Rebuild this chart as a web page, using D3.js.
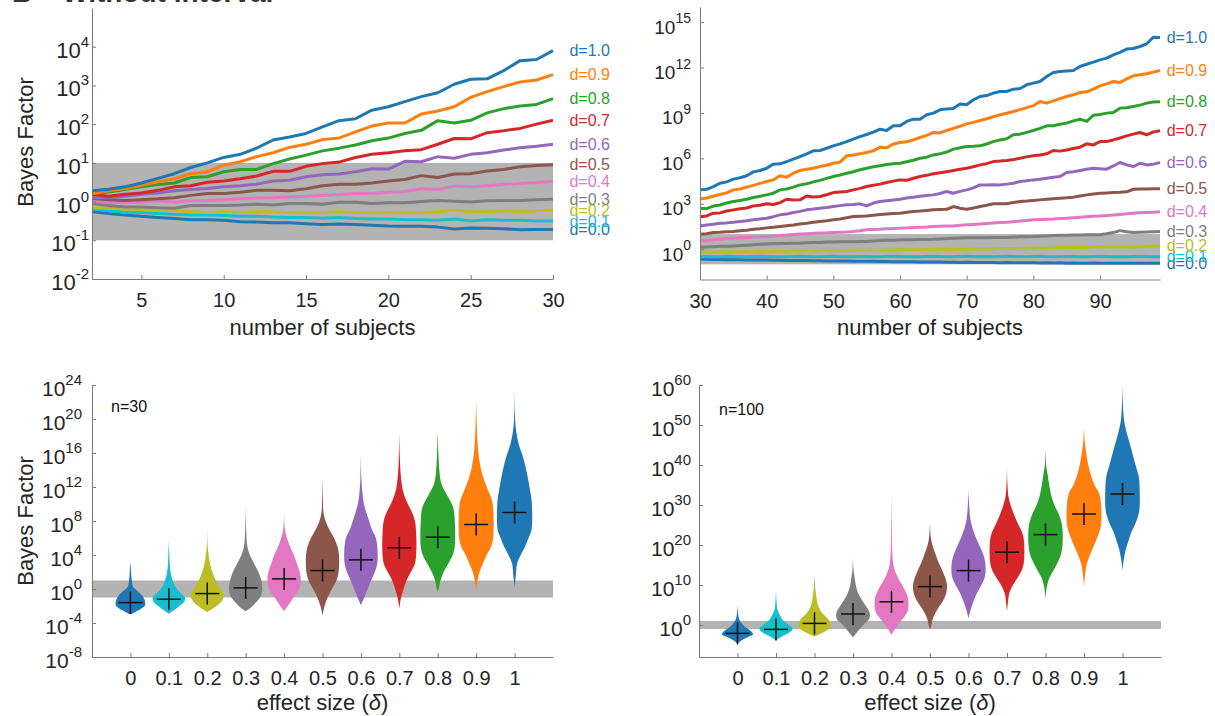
<!DOCTYPE html>
<html>
<head>
<meta charset="utf-8">
<script src="https://cdn.jsdelivr.net/npm/d3@7"></script>
<style>
  body { margin: 0; background: #fff; }
  svg { font-family: "Liberation Sans", Arial, Helvetica, sans-serif; }
</style>
</head>
<body>
<div id="chart"></div>
<script>
// ---- data (log10 Bayes factors) ----
const seriesNames = ["d=0.0", "d=0.1", "d=0.2", "d=0.3", "d=0.4", "d=0.5", "d=0.6", "d=0.7", "d=0.8", "d=0.9", "d=1.0"];
const colors = ["#1f77b4", "#17becf", "#bcbd22", "#7f7f7f", "#e377c2", "#8c564b", "#9467bd", "#d62728", "#2ca02c", "#ff7f0e", "#1f77b4"];
const effectSizes = [0, 0.1, 0.2, 0.3, 0.4, 0.5, 0.6, 0.7, 0.8, 0.9, 1];
const effectLabels = ["0", "0.1", "0.2", "0.3", "0.4", "0.5", "0.6", "0.7", "0.8", "0.9", "1"];

// top left: n = 2..30
const nA = d3.range(2, 31);
const bfA_00 = [-0.26,-0.31,-0.35,-0.38,-0.41,-0.44,-0.47,-0.47,-0.48,-0.52,-0.53,-0.55,-0.55,-0.57,-0.59,-0.58,-0.59,-0.61,-0.63,-0.64,-0.64,-0.66,-0.71,-0.68,-0.69,-0.70,-0.73,-0.72,-0.72];
const bfA_01 = [-0.19,-0.24,-0.27,-0.28,-0.31,-0.33,-0.35,-0.34,-0.36,-0.38,-0.38,-0.40,-0.41,-0.41,-0.43,-0.41,-0.44,-0.45,-0.45,-0.47,-0.47,-0.48,-0.45,-0.50,-0.47,-0.48,-0.48,-0.50,-0.50];
const bfA_02 = [-0.16,-0.17,-0.19,-0.21,-0.22,-0.24,-0.26,-0.28,-0.26,-0.28,-0.26,-0.26,-0.29,-0.28,-0.28,-0.26,-0.28,-0.29,-0.29,-0.28,-0.28,-0.26,-0.22,-0.26,-0.26,-0.24,-0.26,-0.24,-0.22];
const bfA_03 = [-0.05,-0.10,-0.14,-0.14,-0.16,-0.17,-0.10,-0.10,-0.10,-0.09,-0.07,-0.09,-0.05,-0.05,-0.07,-0.02,-0.02,-0.05,-0.03,-0.03,0.00,0.03,0.01,-0.01,0.02,0.03,0.03,0.05,0.06];
const bfA_04 = [0.01,-0.02,-0.03,-0.02,0.02,-0.02,0.02,0.03,0.05,0.07,0.09,0.10,0.12,0.14,0.16,0.18,0.21,0.21,0.24,0.26,0.33,0.31,0.40,0.38,0.41,0.44,0.47,0.49,0.52];
const bfA_05 = [0.08,0.05,0.03,0.05,0.07,0.10,0.16,0.21,0.21,0.24,0.29,0.29,0.28,0.33,0.41,0.45,0.45,0.48,0.53,0.57,0.67,0.62,0.71,0.72,0.79,0.83,0.90,0.93,0.95];
const bfA_06 = [0.10,0.10,0.14,0.19,0.22,0.28,0.31,0.34,0.38,0.41,0.45,0.53,0.55,0.64,0.69,0.71,0.77,0.85,0.84,1.04,1.03,1.16,1.12,1.22,1.26,1.33,1.39,1.43,1.48];
const bfA_07 = [0.18,0.14,0.19,0.22,0.29,0.38,0.41,0.50,0.53,0.59,0.66,0.78,0.78,0.91,0.98,1.02,1.14,1.22,1.26,1.31,1.34,1.48,1.63,1.62,1.78,1.83,1.89,2.00,2.10];
const bfA_08 = [0.21,0.25,0.31,0.38,0.44,0.48,0.62,0.64,0.77,0.83,0.83,0.98,1.10,1.20,1.31,1.38,1.46,1.57,1.64,1.76,1.84,2.09,2.03,2.10,2.29,2.40,2.47,2.51,2.66];
const bfA_09 = [0.21,0.28,0.34,0.42,0.51,0.59,0.72,0.77,0.94,1.03,1.16,1.26,1.40,1.48,1.60,1.64,1.80,1.95,2.03,2.03,2.26,2.34,2.45,2.69,2.84,2.97,3.09,3.14,3.28];
const bfA_10 = [0.28,0.32,0.38,0.48,0.60,0.72,0.88,1.00,1.14,1.22,1.38,1.59,1.67,1.76,1.93,2.09,2.14,2.36,2.45,2.58,2.71,2.81,3.03,3.16,3.17,3.38,3.64,3.67,3.90];

// top right: n = 30..99
const nB = d3.range(30, 100);
const bfB_00 = [-0.66,-0.67,-0.68,-0.68,-0.69,-0.70,-0.70,-0.71,-0.71,-0.72,
  -0.72,-0.73,-0.73,-0.74,-0.74,-0.75,-0.75,-0.76,-0.76,-0.77,
  -0.77,-0.78,-0.78,-0.79,-0.79,-0.80,-0.80,-0.81,-0.81,-0.82,
  -0.82,-0.83,-0.82,-0.84,-0.85,-0.84,-0.85,-0.86,-0.86,-0.87,
  -0.86,-0.87,-0.88,-0.87,-0.88,-0.89,-0.88,-0.89,-0.90,-0.89,
  -0.90,-0.91,-0.90,-0.91,-0.90,-0.92,-0.91,-0.93,-0.92,-0.91,
  -0.92,-0.93,-0.92,-0.93,-0.92,-0.93,-0.93,-0.92,-0.93,-0.93];
const bfB_01 = [-0.49,-0.48,-0.50,-0.49,-0.47,-0.48,-0.49,-0.50,-0.48,-0.47,
  -0.48,-0.49,-0.50,-0.49,-0.48,-0.47,-0.48,-0.50,-0.49,-0.48,
  -0.47,-0.49,-0.50,-0.49,-0.48,-0.48,-0.49,-0.50,-0.48,-0.47,
  -0.48,-0.49,-0.50,-0.49,-0.48,-0.47,-0.48,-0.49,-0.50,-0.48,
  -0.47,-0.48,-0.49,-0.50,-0.49,-0.48,-0.47,-0.48,-0.50,-0.49,
  -0.48,-0.47,-0.49,-0.50,-0.49,-0.48,-0.48,-0.49,-0.50,-0.48,
  -0.47,-0.48,-0.49,-0.50,-0.49,-0.48,-0.47,-0.48,-0.49,-0.49];
const bfB_02 = [-0.20,-0.19,-0.19,-0.18,-0.18,-0.17,-0.17,-0.16,-0.16,-0.15,
  -0.15,-0.14,-0.14,-0.13,-0.12,-0.12,-0.11,-0.11,-0.10,-0.10,
  -0.09,-0.09,-0.08,-0.08,-0.07,-0.07,-0.06,-0.06,-0.05,-0.05,
  -0.04,-0.04,-0.03,-0.03,-0.02,-0.02,-0.01,-0.01,0.00,0.00,
  0.00,0.01,0.01,0.02,0.03,0.04,0.04,0.05,0.06,0.06,
  0.07,0.08,0.08,0.09,0.10,0.10,0.11,0.12,0.13,0.16,
  0.18,0.17,0.15,0.14,0.14,0.13,0.16,0.19,0.21,0.22];
const bfB_03 = [0.13,0.15,0.17,0.19,0.20,0.22,0.24,0.27,0.30,0.33,
  0.35,0.36,0.37,0.38,0.39,0.40,0.42,0.44,0.45,0.47,
  0.48,0.49,0.50,0.50,0.51,0.51,0.54,0.57,0.59,0.60,
  0.62,0.63,0.63,0.64,0.65,0.66,0.68,0.70,0.72,0.74,
  0.75,0.75,0.76,0.76,0.77,0.77,0.78,0.80,0.82,0.83,
  0.84,0.86,0.88,0.90,0.92,0.93,0.94,0.94,0.95,0.95,
  0.95,1.02,1.10,1.23,1.15,1.10,1.12,1.14,1.16,1.17];
const bfB_04 = [0.57,0.60,0.62,0.66,0.70,0.73,0.75,0.78,0.80,0.82,
  0.84,0.88,0.90,0.94,0.98,1.01,1.03,1.05,1.07,1.08,
  1.10,1.12,1.14,1.17,1.22,1.28,1.30,1.32,1.35,1.37,
  1.39,1.41,1.43,1.45,1.47,1.50,1.52,1.53,1.54,1.58,
  1.61,1.64,1.66,1.70,1.73,1.76,1.78,1.82,1.86,1.90,
  1.94,1.96,1.98,2.00,2.03,2.05,2.08,2.11,2.14,2.17,
  2.20,2.22,2.26,2.30,2.34,2.38,2.41,2.43,2.45,2.47];
const bfB_05 = [0.99,1.02,1.10,1.12,1.15,1.17,1.22,1.26,1.32,1.36,
  1.41,1.45,1.50,1.55,1.60,1.67,1.72,1.78,1.83,1.88,
  1.94,2.00,2.08,2.16,2.18,2.20,2.25,2.30,2.33,2.36,
  2.38,2.44,2.49,2.52,2.56,2.60,2.62,2.64,2.82,2.71,
  2.64,2.72,2.82,2.90,3.00,3.00,3.00,3.08,3.15,3.18,
  3.22,3.26,3.30,3.34,3.37,3.40,3.44,3.52,3.59,3.65,
  3.70,3.72,3.74,3.76,3.79,3.96,3.98,3.98,3.99,3.99];
const bfB_06 = [1.54,1.60,1.65,1.72,1.74,1.78,1.83,1.88,1.95,2.00,
  2.05,2.15,2.27,2.32,2.42,2.50,2.60,2.65,2.71,2.76,
  2.82,2.88,2.93,2.96,3.00,2.86,3.05,3.15,3.20,3.25,
  3.30,3.38,3.44,3.50,3.55,3.59,3.68,3.81,3.70,3.82,
  3.92,4.05,4.25,4.25,4.26,4.25,4.30,4.36,4.47,4.52,
  4.58,4.62,4.69,4.75,4.80,5.07,5.12,5.20,5.28,5.35,
  5.32,5.29,5.50,5.73,5.57,5.46,5.68,5.57,5.62,5.73];
const bfB_07 = [2.14,2.20,2.38,2.40,2.52,2.60,2.68,2.72,2.86,2.90,
  3.00,2.95,3.08,3.30,3.25,3.26,3.52,3.45,3.48,3.60,
  3.74,3.78,3.81,3.92,4.02,4.14,4.22,4.30,4.41,4.50,
  4.58,4.55,4.69,4.80,4.88,4.98,5.05,5.12,5.20,5.28,
  5.35,5.45,5.57,5.65,5.79,5.82,5.86,5.92,6.01,6.10,
  6.17,6.22,6.30,6.52,6.48,6.56,6.65,6.74,6.96,6.89,
  7.11,7.12,7.22,7.35,7.49,7.60,7.71,7.56,7.75,7.82];
const bfB_08 = [2.71,2.68,2.85,2.92,3.05,3.15,3.22,3.30,3.42,3.50,
  3.59,3.70,3.92,3.98,4.10,4.25,4.32,4.45,4.55,4.68,
  4.80,4.90,5.02,5.12,5.25,5.35,5.45,5.51,5.60,5.64,
  5.68,5.78,5.88,6.01,6.08,6.23,6.30,6.42,6.61,6.70,
  6.78,6.80,6.83,6.95,7.11,7.22,7.30,7.56,7.60,7.72,
  7.84,7.98,8.15,8.16,8.25,8.33,8.48,8.59,8.44,8.85,
  8.90,8.99,9.03,9.32,9.35,9.43,9.52,9.65,9.72,9.74];
const bfB_09 = [3.32,3.38,3.50,3.62,3.72,3.92,3.98,4.10,4.22,4.35,
  4.47,4.58,4.85,4.76,5.02,5.20,5.28,5.35,5.46,5.55,
  5.68,5.75,6.17,6.22,6.30,6.39,6.50,6.74,6.70,6.95,
  7.05,7.10,7.22,7.38,7.52,7.71,7.68,7.84,7.98,8.12,
  8.28,8.38,8.50,8.62,8.75,8.88,8.98,9.10,9.22,9.35,
  9.47,9.76,9.65,9.80,9.95,10.09,10.20,10.35,10.40,10.58,
  10.79,10.92,11.08,11.01,11.25,11.45,11.52,11.59,11.70,11.81];
const bfB_10 = [3.92,3.96,4.14,4.36,4.45,4.63,4.72,4.85,5.11,5.20,
  5.35,5.62,5.64,5.79,5.95,6.12,6.30,6.50,6.52,6.67,
  6.83,6.96,7.11,7.27,7.44,7.58,7.73,7.93,7.84,8.15,
  8.15,8.44,8.59,8.59,8.88,8.99,9.21,9.27,9.30,9.60,
  9.54,9.87,10.09,10.15,10.31,10.42,10.42,10.57,10.62,10.86,
  10.97,11.08,11.41,11.67,11.74,11.78,11.81,12.07,12.22,12.36,
  12.51,12.62,12.84,13.00,13.22,13.26,13.39,13.57,14.00,13.99];

// violin outlines, n = 30: [log10 BF, relative density]
const vC_00 = [[3.2,0],[2,0.04],[1,0.08],[0.3,0.15],[-0.2,0.4],[-0.8,0.7],[-1.4,0.85],[-1.9,0.86],[-2.3,0.65],[-2.7,0.3],[-3.0,0]];
const vC_01 = [[5.7,0],[4,0.03],[2.5,0.07],[1.5,0.15],[0.5,0.32],[-0.3,0.6],[-1.0,0.95],[-1.5,0.9],[-2.0,0.62],[-2.5,0.3],[-2.9,0]];
const vC_02 = [[6.9,0],[5,0.03],[4,0.08],[3,0.16],[2,0.3],[1,0.5],[0,0.8],[-0.8,0.98],[-1.5,0.82],[-2.2,0.4],[-2.7,0]];
const vC_03 = [[9.7,0],[7,0.03],[5,0.1],[4,0.25],[3,0.5],[2,0.75],[1,0.92],[0,0.98],[-0.8,0.9],[-1.6,0.6],[-2.2,0.3],[-2.6,0]];
const vC_04 = [[9.1,0],[7.5,0.03],[6.5,0.1],[5,0.35],[4,0.58],[3,0.75],[2,0.92],[1,0.98],[0,0.88],[-1,0.55],[-2,0.22],[-2.6,0]];
const vC_05 = [[13,0],[11,0.02],[9,0.06],[8,0.18],[7,0.4],[6,0.68],[5,0.88],[4,0.97],[3,0.98],[2,0.95],[1,0.82],[0,0.55],[-1,0.3],[-2,0.12],[-3.1,0]];
const vC_06 = [[15.8,0],[13,0.03],[11.5,0.08],[10,0.18],[8.5,0.4],[7,0.65],[6,0.88],[4.5,0.98],[3,0.96],[2,0.82],[1,0.6],[0,0.4],[-1,0.2],[-1.9,0]];
const vC_07 = [[18.3,0],[15.5,0.03],[13.5,0.08],[11.5,0.22],[10,0.5],[9,0.75],[8,0.92],[6.5,0.99],[4.5,1.0],[3,0.92],[2,0.68],[1,0.42],[0,0.25],[-1,0.1],[-2.3,0]];
const vC_08 = [[18.5,0],[16,0.04],[14,0.09],[12.5,0.2],[11.5,0.42],[10.5,0.7],[9.5,0.92],[8,1.0],[5,1.0],[4,0.88],[3,0.62],[2,0.35],[1,0.16],[0,0.05],[-0.3,0]];
const vC_09 = [[22.2,0],[19,0.04],[17,0.09],[15,0.2],[13.5,0.36],[12,0.62],[10.5,0.92],[9.5,1.0],[6,1.0],[5,0.88],[4,0.62],[3,0.4],[2,0.2],[1,0.08],[-0.3,0]];
const vC_10 = [[23.4,0],[20,0.03],[18.5,0.1],[17,0.25],[15.5,0.5],[13.5,0.74],[11.5,0.92],[10.5,1.0],[7,1.0],[6,0.82],[5,0.62],[4,0.36],[3,0.15],[1.5,0.07],[0.2,0]];
const medianC = [-1.6, -1.2, -0.54, 0.13, 1.19, 2.17, 3.43, 4.84, 6.1, 7.59, 9.0];

// violin outlines, n = 100
const vD_00 = [[5,0],[3,0.03],[1.7,0.08],[0.5,0.22],[-0.5,0.45],[-1.5,0.78],[-2.3,0.92],[-3,0.62],[-3.8,0.25],[-4.6,0]];
const vD_01 = [[8.75,0],[6,0.03],[4,0.08],[2.5,0.22],[1,0.45],[0,0.78],[-1,0.98],[-2,0.75],[-3,0.3],[-3.75,0]];
const vD_02 = [[12.9,0],[10,0.03],[8,0.08],[5,0.2],[3,0.45],[1.5,0.8],[0,0.97],[-1,0.85],[-2,0.45],[-2.9,0]];
const vD_03 = [[17.1,0],[14,0.03],[12,0.09],[9,0.22],[7,0.42],[5,0.72],[3,0.98],[1.5,0.95],[0,0.6],[-1.5,0.3],[-3.1,0]];
const vD_04 = [[32.9,0],[25,0.02],[18,0.05],[14.5,0.14],[12,0.36],[10,0.62],[8.5,0.82],[7,0.96],[5,1.0],[3.5,0.95],[2,0.75],[0.5,0.45],[-1,0.2],[-2.5,0]];
const vD_05 = [[25.4,0],[22,0.05],[20,0.14],[18,0.3],[16,0.47],[14,0.68],[12,0.88],[10,1.0],[8,0.96],[6,0.76],[4,0.45],[2,0.2],[0,0.08],[-1.25,0]];
const vD_06 = [[33.75,0],[30,0.04],[26.5,0.11],[24,0.25],[21.5,0.47],[19.5,0.68],[17.5,0.88],[15,1.0],[12,0.96],[10,0.76],[8,0.5],[6,0.3],[4,0.14],[1.7,0]];
const vD_07 = [[39.6,0],[35,0.03],[32,0.09],[29.5,0.25],[27,0.47],[25,0.68],[23,0.9],[21,1.0],[16,1.0],[14,0.9],[12,0.65],[10,0.35],[8,0.14],[5.5,0.05],[3.3,0]];
const vD_08 = [[43.75,0],[40,0.04],[37.5,0.13],[35,0.22],[32.5,0.33],[30,0.52],[28,0.75],[26,0.92],[24,1.0],[20,1.0],[17.5,0.9],[15.5,0.7],[13.5,0.45],[11.5,0.2],[9.5,0.08],[6.7,0]];
const vD_09 = [[49.6,0],[46,0.04],[43,0.13],[40,0.25],[37.5,0.4],[35,0.62],[33,0.88],[30.5,1.0],[25,1.0],[23,0.88],[21,0.7],[19,0.5],[17,0.3],[15,0.15],[12,0.05],[9.6,0]];
const vD_10 = [[60,0],[55,0.03],[51,0.1],[48,0.25],[45,0.45],[42,0.64],[39.5,0.8],[37,0.96],[35,1.0],[29,1.0],[27,0.9],[25,0.72],[23,0.5],[21,0.35],[19,0.2],[16.5,0.08],[13.75,0]];
const medianD = [-2.1, -1.1, 0.4, 2.75, 5.8, 9.6, 13.6, 18.2, 22.6, 27.75, 32.75];

// tick exponents / values
const yExpA = [-2, -1, 0, 1, 2, 3, 4];
const yExpB = [0, 3, 6, 9, 12, 15];
const yExpC = [-8, -4, 0, 4, 8, 12, 16, 20, 24];
const yExpD = [0, 10, 20, 30, 40, 50, 60];
const xTicksA = [5, 10, 15, 20, 25, 30];
const xTicksB = [30, 40, 50, 60, 70, 80, 90];
const bandLow = 0.1, bandHigh = 10;

const seriesA = [bfA_00, bfA_01, bfA_02, bfA_03, bfA_04, bfA_05, bfA_06, bfA_07, bfA_08, bfA_09, bfA_10];
const seriesB = [bfB_00, bfB_01, bfB_02, bfB_03, bfB_04, bfB_05, bfB_06, bfB_07, bfB_08, bfB_09, bfB_10];
const violinsC = [vC_00, vC_01, vC_02, vC_03, vC_04, vC_05, vC_06, vC_07, vC_08, vC_09, vC_10];
const violinsD = [vD_00, vD_01, vD_02, vD_03, vD_04, vD_05, vD_06, vD_07, vD_08, vD_09, vD_10];

// ---- drawing ----
const axisColor = "#7a7a7a", textColor = "#262626", bandColor = "#b3b3b3";

const svg = d3.select("#chart").append("svg").attr("width", 1215).attr("height", 716);

// panel title, cut off by the top edge as in the source figure
svg.append("text").attr("x", 12).attr("y", 2).attr("font-size", 28).attr("font-weight", "bold")
    .attr("fill", "#333").text("B");
svg.append("text").attr("x", 62).attr("y", 2).attr("font-size", 28).attr("font-weight", "bold")
    .attr("fill", "#333").text("Without interval");

const yAxis = (g, y, x0, exps, o) => {
    const ax = g.append("g")
        .attr("transform", "translate(" + x0 + ",0)")
        .call(d3.axisLeft(y).tickValues(exps.map((e) => Math.pow(10, e))).tickSizeInner(-4).tickSizeOuter(0).tickPadding(o.pad));
    ax.attr("font-family", null).attr("font-size", null);
    ax.select(".domain").attr("stroke", axisColor);
    ax.selectAll(".tick line").attr("stroke", axisColor);
    ax.selectAll(".tick text").each(function (d, i) {
        const t = d3.select(this).text(null).attr("dy", null).attr("fill", textColor);
        t.append("tspan").attr("font-size", o.base).attr("dy", o.baseDy).text("10");
        t.append("tspan").attr("font-size", o.sup).attr("dy", o.supDy).text(String(exps[i]));
    });
};

const xAxis = (g, x, y0, vals, labels) => {
    const ax = g.append("g")
        .attr("transform", "translate(0," + y0 + ")")
        .call(d3.axisBottom(x).tickValues(vals).tickFormat((d, i) => labels[i]).tickSizeInner(-4).tickSizeOuter(0).tickPadding(14));
    ax.attr("font-family", null).attr("font-size", null);
    ax.select(".domain").attr("stroke", axisColor);
    ax.selectAll(".tick line").attr("stroke", axisColor);
    ax.selectAll(".tick text").attr("font-size", 20).attr("fill", textColor);
};

const band = (g, x, y) => {
    g.append("rect")
        .attr("x", x.range()[0])
        .attr("width", x.range()[1] - x.range()[0])
        .attr("y", y(bandHigh))
        .attr("height", y(bandLow) - y(bandHigh))
        .attr("fill", bandColor);
};

const yLabel = (g, cy) => {
    g.append("text").attr("transform", "translate(33," + cy + ") rotate(-90)")
        .attr("text-anchor", "middle").attr("font-size", 22).attr("fill", textColor).text("Bayes Factor");
};

const xLabel = (g, cx, yb, kind) => {
    const t = g.append("text").attr("x", cx).attr("y", yb).attr("text-anchor", "middle")
        .attr("font-size", 22).attr("fill", textColor);
    if (kind === "n") t.text("number of subjects");
    else {
        t.append("tspan").text("effect size (");
        t.append("tspan").attr("font-style", "italic").text("\u03b4");
        t.append("tspan").text(")");
    }
};

// line panel (top row)
const linePanel = (nVals, series, xDom, xRange, yDom, yRange, xTicks, exps, o) => {
    const g = svg.append("g");
    const x = d3.scaleLinear().domain(xDom).range(xRange);
    const y = d3.scaleLog().domain(yDom).range(yRange);
    band(g, x, y);

    const line = d3.line().x((v, i) => x(nVals[i])).y((v) => y(Math.pow(10, v)));
    g.selectAll(".series")
        .data(series)
        .enter()
        .append("path")
        .attr("class", "series")
        .attr("d", (s) => line(s))
        .attr("fill", "none")
        .attr("stroke", (s, i) => colors[i])
        .attr("stroke-width", 3)
        .attr("stroke-linejoin", "round");

    // labels at the line ends
    const lastN = nVals[nVals.length - 1];
    g.selectAll(".lab")
        .data(series)
        .enter()
        .append("text")
        .attr("class", "lab")
        .attr("x", x(lastN + 1))
        .attr("y", (s) => y(Math.pow(10, s[s.length - 1])))
        .attr("dy", "0.35em")
        .attr("font-size", 16)
        .attr("fill", (s, i) => colors[i])
        .text((s, i) => seriesNames[i]);

    yAxis(g, y, xRange[0], exps, o);
    xAxis(g, x, yRange[0], xTicks, xTicks.map(String));
    return g;
};

// violin panel (bottom row)
const violinPanel = (violins, medians, xRange, yDom, yRange, exps, o, note) => {
    const g = svg.append("g");
    const x = d3.scaleLinear().domain([-0.1, 1.1]).range(xRange);
    const y = d3.scaleLog().domain(yDom).range(yRange);
    const w = d3.scaleLinear().domain([0, 1]).range([0, 17]).clamp(true);
    band(g, x, y);

    violins.forEach((v, i) => {
        const cx = x(effectSizes[i]);
        const area = d3.area()
            .curve(d3.curveCatmullRom.alpha(0.5))
            .y((p) => y(Math.pow(10, p[0])))
            .x0((p) => cx - w(p[1]))
            .x1((p) => cx + w(p[1]));
        g.append("path").attr("d", area(v)).attr("fill", colors[i]);
        const my = y(Math.pow(10, medians[i]));
        g.append("line").attr("x1", cx - 12).attr("x2", cx + 12).attr("y1", my).attr("y2", my)
            .attr("stroke", "#111").attr("stroke-width", 1.5);
        g.append("line").attr("x1", cx).attr("x2", cx).attr("y1", my - 11).attr("y2", my + 11)
            .attr("stroke", "#111").attr("stroke-width", 1.5);
    });

    g.append("text").attr("x", note.x).attr("y", note.y).attr("font-size", 16).attr("fill", "#111").text(note.text);

    yAxis(g, y, xRange[0], exps, o);
    xAxis(g, x, yRange[0], effectSizes, effectLabels);
    return g;
};

const gA = linePanel(nA, seriesA, [2, 30], [92, 553], [1e-2, 1e5], [279, 8], xTicksA, yExpA,
    { pad: 3, base: 22, sup: 15, baseDy: 10.5, supDy: -11 });
yLabel(gA, 142);
xLabel(gA, 322.5, 335, "n");

const gB = linePanel(nB, seriesB, [30, 99], [700, 1160], [1e-2, 1e16], [279.5, 7], xTicksB, yExpB,
    { pad: 9, base: 19, sup: 14, baseDy: 11, supDy: -10.5 });
xLabel(gB, 930, 335, "n");

const gC = violinPanel(violinsC, medianC, [92, 553], [1e-8, 1e24], [657, 385], yExpC,
    { pad: 10, base: 21, sup: 15, baseDy: 10.5, supDy: -11 }, { x: 111, y: 412, text: "n=30" });
yLabel(gC, 521);
xLabel(gC, 322.5, 710, "d");

const gD = violinPanel(violinsD, medianD, [699, 1161], [1e-8, 1e60], [657, 385], yExpD,
    { pad: 8, base: 21, sup: 15, baseDy: 10.5, supDy: -11 }, { x: 719, y: 415, text: "n=100" });
xLabel(gD, 930, 710, "d");
</script>
</body>
</html>
